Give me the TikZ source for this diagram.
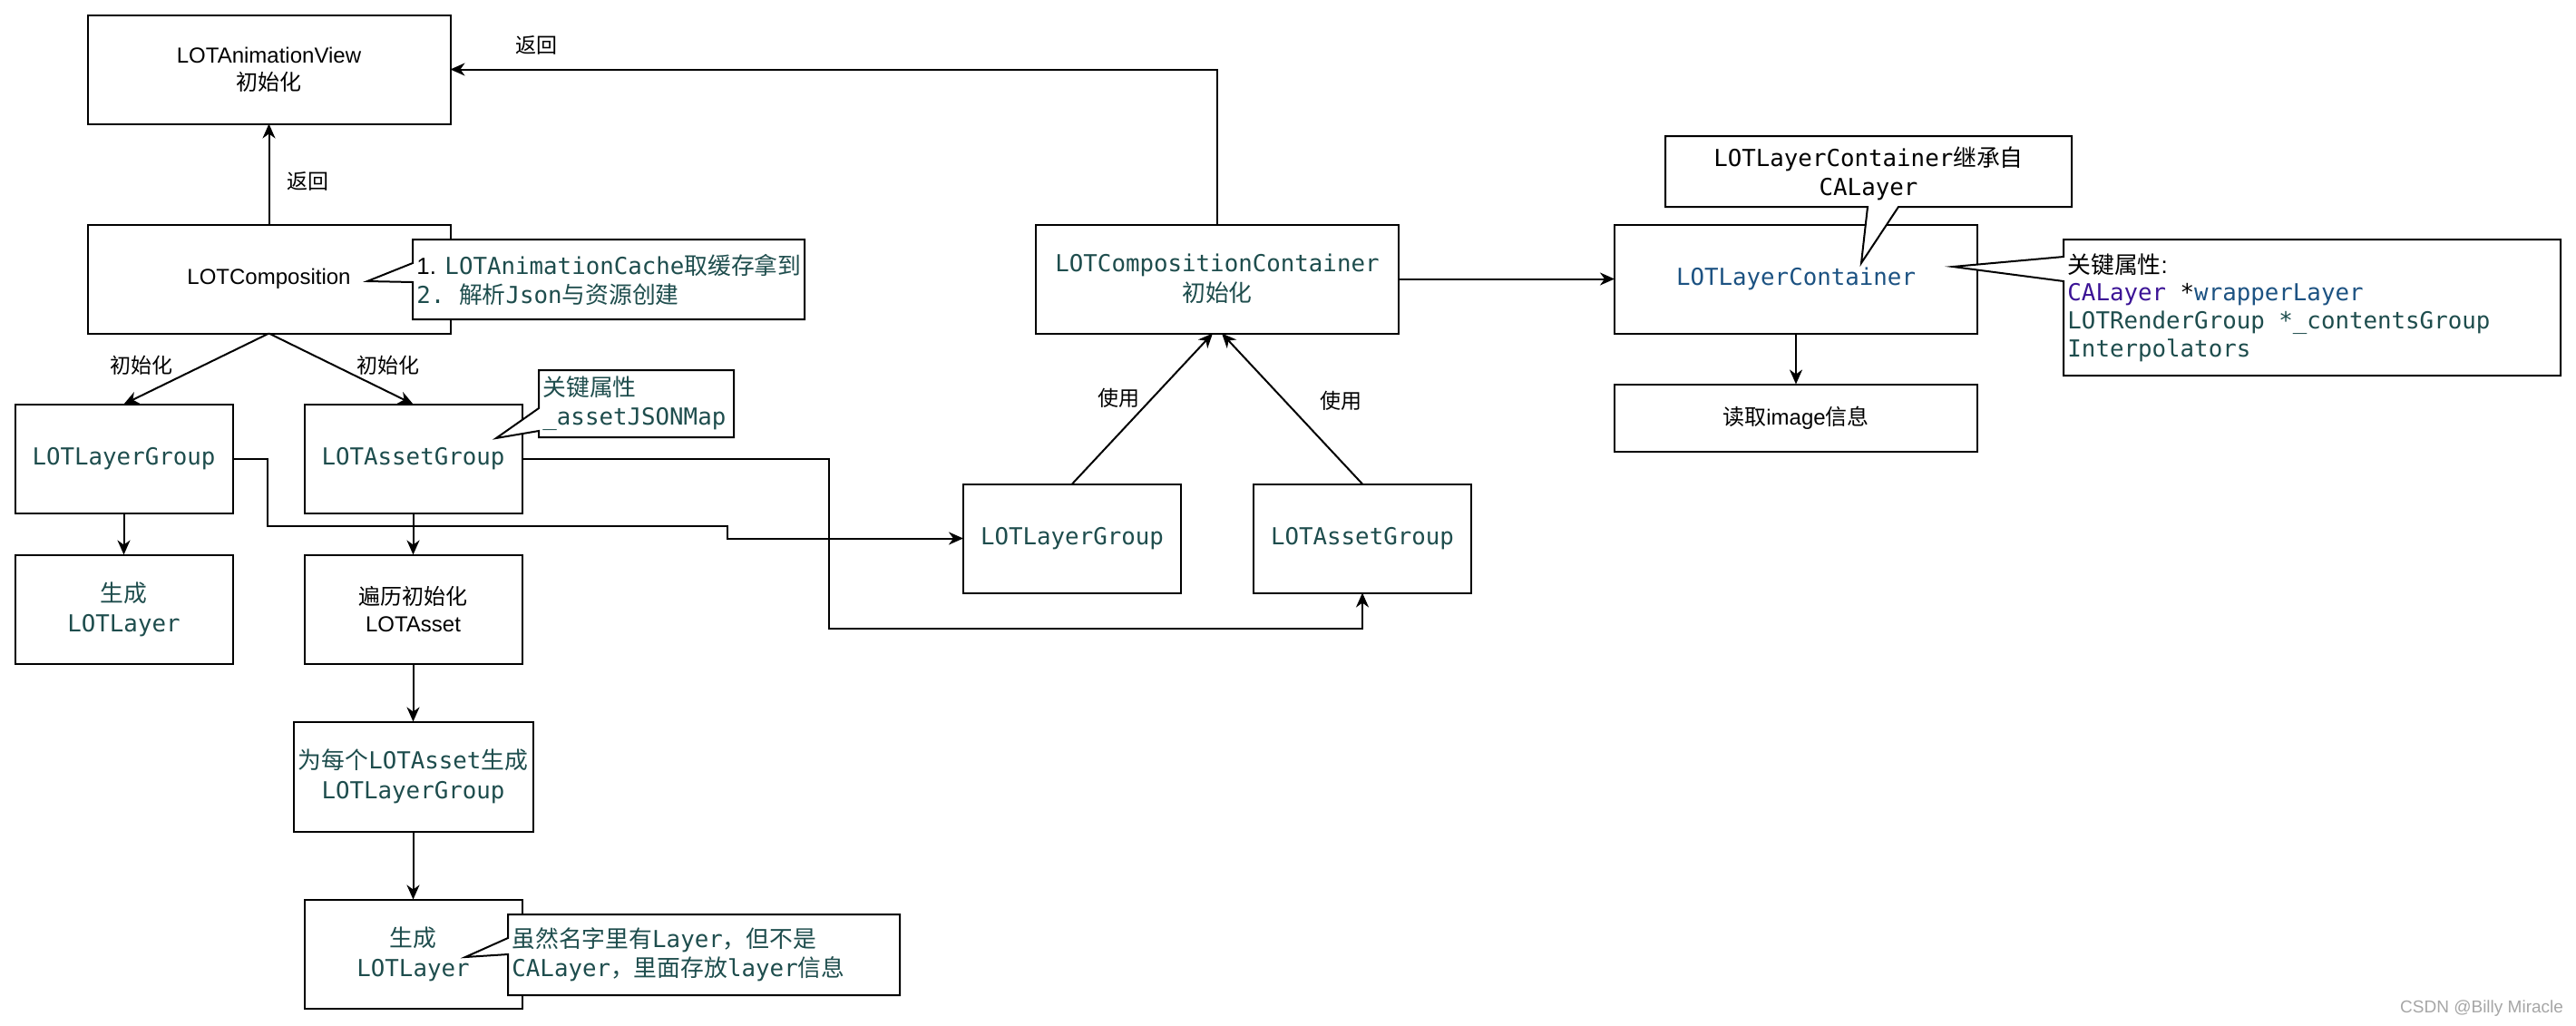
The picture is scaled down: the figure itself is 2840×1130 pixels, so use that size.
\documentclass[tikz,border=0pt]{standalone}
\usepackage{fontspec}
\setmainfont{Liberation Sans}
\setmonofont{DejaVu Sans Mono}
\newfontfamily\cjk{Noto Sans CJK SC}
\usetikzlibrary{positioning,arrows.meta}

\definecolor{codeteal}{HTML}{1E4D4D}
\definecolor{typeblue}{HTML}{1C5282}
\definecolor{typepurple}{HTML}{3C1496}

\newcommand{\zh}[1]{{\cjk #1}}
\newcommand{\code}[1]{{\ttfamily\color{codeteal}#1}}

\begin{document}
\begin{tikzpicture}
  [x=0.5pt, y=-0.5pt,
   >={Stealth[length=8pt, width=7pt, inset=2.5pt]},
   box/.style={draw, line width=1pt, outer sep=0pt, inner sep=0pt,
     minimum width=200pt, minimum height=60pt, align=center,
     font=\fontsize{12}{15}\selectfont},
   narrow/.style={minimum width=120pt},
   codebox/.style={box, text=codeteal, font=\fontsize{12.9}{16.5}\selectfont\ttfamily},
   flow/.style={->, line width=1pt},
   rev/.style={<-, line width=1pt},
   lbl/.style={font=\fontsize{11.5}{14}\selectfont\cjk},
   callout/.style={draw, fill=white, line width=1pt},
   note/.style={inner sep=2pt, anchor=west, align=left, font=\fontsize{12.9}{16}\selectfont}]

  \path[use as bounding box, fill=white] (0,0) rectangle (2840,1130);

  % left column
  \node[box] (view) at (296.5,76.5) {LOTAnimationView\\\zh{初始化}};

  \node[box] (comp) [below=55.5pt of view] {LOTComposition}
    edge[flow] node[lbl, pos=0.43, xshift=21.5pt] {返回} (view);

  \node[codebox, narrow] (lgrp) [below=39pt of comp, xshift=-80pt] {LOTLayerGroup};
  \node[codebox, narrow] (agrp) [right=39.5pt of lgrp] {LOTAssetGroup};

  \node[codebox, narrow] (mklayer) [below=23pt of lgrp] {\zh{生成}\\LOTLayer}
    edge[rev] (lgrp);
  \node[box, narrow] (trav) [below=23pt of agrp] {\zh{遍历初始化}\\LOTAsset}
    edge[rev] (agrp);
  \node[codebox, minimum width=132pt, minimum height=60.5pt] (pergrp) [below=32pt of trav]
    {\zh{为每个}LOTAsset\zh{生成}\\LOTLayerGroup}
    edge[rev] (trav);
  \node[codebox, narrow] (mklayer2) [below=37.5pt of pergrp] {\zh{生成}\\LOTLayer}
    edge[rev] (pergrp);

  % container side
  \node[codebox] (cont) [right=322.75pt of comp] {LOTCompositionContainer\\\zh{初始化}};
  \node[codebox, narrow] (lgrp2) [below=83pt of cont, xshift=-80pt] {LOTLayerGroup};
  \node[codebox, narrow] (agrp2) [right=40pt of lgrp2] {LOTAssetGroup};

  \node[codebox, text=typeblue] (lcont) [right=119pt of cont] {LOTLayerContainer}
    edge[rev] (cont);
  \node[box, minimum height=37pt] (readimg) [below=28pt of lcont] {\zh{读取}image\zh{信息}}
    edge[rev] (lcont);

  % connectors
  \draw[flow] (comp.south) -- (lgrp.north) node[lbl, pos=0.45, xshift=-34.5pt] {初始化};
  \draw[flow] (comp.south) -- (agrp.north) node[lbl, pos=0.45, xshift=30pt] {初始化};
  \draw[flow] (lgrp.east) -| (295,580) -- (802,580) |- (lgrp2.west);
  \draw[flow] (agrp.east) -| (914,693) -| (agrp2.south);
  \draw[flow] (lgrp2.north) -- ([xshift=-2.5pt]cont.south)
    node[lbl, pos=0.57, xshift=-18.5pt] {使用};
  \draw[flow] (agrp2.north) -- ([xshift=2.5pt]cont.south)
    node[lbl, pos=0.55, xshift=31pt] {使用};
  \draw[flow] (cont.north) |- (view.east) node[lbl, pos=0.944, yshift=13.25pt] {返回};

  % callouts
  \draw[callout] (455,264) -- (887,264) -- (887,352) -- (455,352)
    -- (455,311) -- (405,310) -- (455,290) -- cycle;
  \node[note] (compnote) at (455,308)
    {1. \code{LOTAnimationCache\zh{取缓存拿到}}\\\code{2. \zh{解析}Json\zh{与资源创建}}};

  \draw[callout] (594,408) -- (809,408) -- (809,482) -- (594,482)
    -- (594,475) -- (547,483) -- (594,450) -- cycle;
  \node[note] (assetnote) at (594,445)
    {\code{\zh{关键属性}}\\\code{\_assetJSONMap}};

  \draw[callout] (560,1008) -- (992,1008) -- (992,1097) -- (560,1097)
    -- (560,1052) -- (513,1055) -- (560,1034) -- cycle;
  \node[note] (layernote) at (560,1052.5)
    {\code{\zh{虽然名字里有}Layer\zh{，但不是}}\\\code{CALayer\zh{，里面存放}layer\zh{信息}}};

  \draw[callout] (1836,150) -- (2284,150) -- (2284,228) -- (2093,228)
    -- (2052,290) -- (2059,228) -- (1836,228) -- cycle;
  \node[note, anchor=center, align=center] (inheritnote) at (2060,191)
    {{\ttfamily LOTLayerContainer\zh{继承自}}\\{\ttfamily CALayer}};

  \draw[callout] (2275,264) -- (2823,264) -- (2823,414) -- (2275,414)
    -- (2275,310) -- (2153,294) -- (2275,283) -- cycle;
  \node[note, font=\fontsize{12.9}{15.3}\selectfont] (propnote) at (2275,339)
    {\zh{关键属性}:\\
     {\ttfamily\textcolor{typepurple}{CALayer} *\textcolor{typeblue}{wrapperLayer}}\\
     \code{LOTRenderGroup *\_contentsGroup}\\
     \code{Interpolators}};

  \node[anchor=east, text=black!35, font=\fontsize{9.5}{11}\selectfont] (mark) at (2833,1112)
    {CSDN @Billy Miracle};

\end{tikzpicture}
\end{document}
